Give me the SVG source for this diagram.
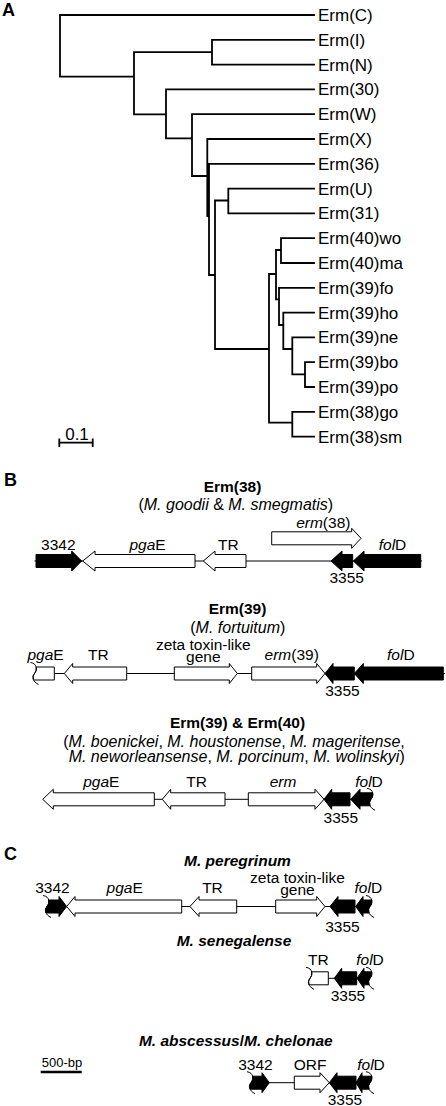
<svg xmlns="http://www.w3.org/2000/svg" width="446" height="1106" viewBox="0 0 446 1106">
<style>
text{font-family:"Liberation Sans",Arial,sans-serif;fill:#000}
.leaf{font-size:17px}
.pl{font-size:18px;font-weight:bold}
.lb{font-size:15.5px;text-anchor:middle}
.zl{font-size:15.5px;text-anchor:middle}
.tt{font-size:15.5px;font-weight:bold;text-anchor:middle}
.sp{font-size:15.5px;font-weight:bold;font-style:italic;text-anchor:middle}
.sub{font-size:16px;text-anchor:middle}
.i{font-style:italic}
.n{font-style:normal}
.br{fill:none;stroke:#000;stroke-width:1.8;stroke-linecap:square}
.bb{fill:none;stroke:#000;stroke-width:1}
.w{fill:#fff;stroke:#000;stroke-width:1;stroke-linejoin:miter}
.k{fill:#000;stroke:#000;stroke-width:1;stroke-linejoin:miter}
</style>
<defs>
<path id="brk" d="M-3,-11 C4,-10 4,-3 1,0 S-1,8 5,11" fill="none" stroke="#000" stroke-width="1"/>
</defs>
<rect width="446" height="1106" fill="#fff"/>

<text class="pl" x="2" y="15.5">A</text>
<text class="pl" x="4" y="485.5">B</text>
<text class="pl" x="4" y="860">C</text>

<g id="connectors">
<path class="br" d="M60,15V76.7M60,15H314M60,76.7H134
M134,52.2V114.3M134,52.2H212M134,114.3H166
M212,39.8V64.6M212,39.8H314M212,64.6H314
M166,89.4V138.3M166,89.4H314M166,138.3H192
M192,114.2V176M192,114.2H314M192,176H207.3
M207.3,139V216M207.3,139H314M207.3,216H209
M209,163.8V275M209,163.8H314M209,275H215
M215,200.5V349M215,200.5H228.3M215,349H269
M228.3,188.6V213.4M228.3,188.6H314M228.3,213.4H314
M269,274V422.7M269,274H276M269,422.7H292.3
M276,250V299.3M276,250H281M276,299.3H279
M281,238.2V263M281,238.2H314M281,263H314
M279,287.8V325M279,287.8H314M279,325H283.3
M283.3,312.6V349M283.3,312.6H314M283.3,349H292.3
M292.3,337.4V374.3M292.3,337.4H314M292.3,374.3H305
M305,362.2V387M305,362.2H314M305,387H314
M292.3,411.8V436.6M292.3,411.8H314M292.3,436.6H314"/>
</g>

<g id="leaves">
<g id="leaf-C"><text class="leaf" x="318" y="21">Erm(C)</text></g>
<g id="leaf-I"><text class="leaf" x="318" y="45.8">Erm(I)</text></g>
<g id="leaf-N"><text class="leaf" x="318" y="70.6">Erm(N)</text></g>
<g id="leaf-30"><text class="leaf" x="318" y="95.4">Erm(30)</text></g>
<g id="leaf-W"><text class="leaf" x="318" y="120.2">Erm(W)</text></g>
<g id="leaf-X"><text class="leaf" x="318" y="145">Erm(X)</text></g>
<g id="leaf-36"><text class="leaf" x="318" y="169.8">Erm(36)</text></g>
<g id="leaf-U"><text class="leaf" x="318" y="194.6">Erm(U)</text></g>
<g id="leaf-31"><text class="leaf" x="318" y="219.4">Erm(31)</text></g>
<g id="leaf-40wo"><text class="leaf" x="318" y="244.2">Erm(40)wo</text></g>
<g id="leaf-40ma"><text class="leaf" x="318" y="269">Erm(40)ma</text></g>
<g id="leaf-39fo"><text class="leaf" x="318" y="293.8">Erm(39)fo</text></g>
<g id="leaf-39ho"><text class="leaf" x="318" y="318.6">Erm(39)ho</text></g>
<g id="leaf-39ne"><text class="leaf" x="318" y="343.4">Erm(39)ne</text></g>
<g id="leaf-39bo"><text class="leaf" x="318" y="368.2">Erm(39)bo</text></g>
<g id="leaf-39po"><text class="leaf" x="318" y="393">Erm(39)po</text></g>
<g id="leaf-38go"><text class="leaf" x="318" y="417.8">Erm(38)go</text></g>
<g id="leaf-38sm"><text class="leaf" x="318" y="442.6">Erm(38)sm</text></g>
</g>

<g id="scale-tree">
<path class="br" stroke-linecap="butt" d="M59.3,442.7H92.7M59.3,439.3V446M92.7,439.3V446"/>
<text class="leaf" x="77" y="440" text-anchor="middle" font-size="18">0.1</text>
</g>

<!-- Panel B row 1 -->
<g id="title-b1">
<text class="tt" x="232.5" y="491.7">Erm(38)</text>
<text class="sub" x="235.8" y="510">(<tspan class="i">M. goodii</tspan> &amp; <tspan class="i">M. smegmatis</tspan>)</text>
</g>
<g id="row-b1" transform="translate(0,561)">
<path class="bb" d="M34.5,0H422"/>
<g id="b1-3342"><path class="k" d="M36,-6.5H71.7V-10L81.7,0L71.7,10V6.5H36Z"/><text class="lb" x="58.3" y="-11">3342</text></g>
<g id="b1-pgaE"><path class="w" d="M82.7,0L95,-10V-6.5H195V6.5H95V10Z"/><text class="lb" x="147.5" y="-11"><tspan class="i">pga</tspan>E</text></g>
<g id="b1-TR"><path class="w" d="M203.3,0L215,-10V-6.5H246V6.5H215V10Z"/><text class="lb" x="228.3" y="-11">TR</text></g>
<g id="b1-erm38"><path class="w" d="M271.7,-29.2H351.7V-32.7L361,-22.7L351.7,-12.7V-16.2H271.7Z"/><text class="lb" x="323.3" y="-33"><tspan class="i">erm</tspan>(38)</text></g>
<g id="b1-3355"><path class="k" d="M331,0L342,-10V-6.5H352.7V6.5H342V10Z"/><text class="lb" x="346.7" y="22">3355</text></g>
<g id="b1-folD"><path class="k" d="M353.3,0L364,-10V-6.5H420.7V6.5H364V10Z"/><text class="lb" x="392.5" y="-11"><tspan class="i">fol</tspan>D</text></g>
</g>

<!-- Panel B row 2 -->
<g id="title-b2">
<text class="tt" x="237.5" y="614">Erm(39)</text>
<text class="sub" x="237.8" y="633">(<tspan class="i">M. fortuitum</tspan>)</text>
</g>
<g id="row-b2" transform="translate(0,673.5)">
<path class="bb" d="M54.3,0H445"/>
<g id="b2-pgaE"><path class="w" d="M36.2,-6.5H54.3V6.5H33.6Q32.3,2.5 34.5,0Q36.7,-2.5 36.2,-6.5Z"/><use href="#brk" x="33.5" y="0"/><text class="lb" x="45.5" y="-13.5"><tspan class="i">pga</tspan>E</text></g>
<g id="b2-TR"><path class="w" d="M64.3,0L72.7,-10V-6.5H126.7V6.5H72.7V10Z"/><text class="lb" x="98.3" y="-13.5">TR</text></g>
<g id="b2-zeta"><path class="w" d="M174.3,-6.5H229.3V-10L237.3,0L229.3,10V6.5H174.3Z"/><text class="zl" x="203.3" y="-23.6">zeta toxin-like<tspan x="203.3" dy="12.4">gene</tspan></text></g>
<g id="b2-erm39"><path class="w" d="M251.7,-6.5H316.7V-10L325,0L316.7,10V6.5H251.7Z"/><text class="lb" x="291.7" y="-13.5"><tspan class="i">erm</tspan>(39)</text></g>
<g id="b2-3355"><path class="k" d="M325,0L333,-10V-6.5H354.3V6.5H333V10Z"/><text class="lb" x="342.5" y="22.5">3355</text></g>
<g id="b2-folD"><path class="k" d="M354.3,0L363.3,-10V-6.5H443.3V6.5H363.3V10Z"/><text class="lb" x="400.8" y="-13.5"><tspan class="i">fol</tspan>D</text></g>
</g>

<!-- Panel B row 3 -->
<g id="title-b3">
<text class="tt" x="237.5" y="728.3">Erm(39) &amp; Erm(40)</text>
<text class="sub" x="234" y="746.7">(<tspan class="i">M. boenickei</tspan>, <tspan class="i">M. houstonense</tspan>, <tspan class="i">M. mageritense</tspan>,</text>
<text class="sub" x="236.7" y="761.7"><tspan class="i">M. neworleansense</tspan>, <tspan class="i">M. porcinum</tspan>, <tspan class="i">M. wolinskyi</tspan>)</text>
</g>
<g id="row-b3" transform="translate(0,799.3)">
<path class="bb" d="M43,0H371"/>
<g id="b3-pgaE"><path class="w" d="M42.7,0L53.3,-10V-6.5H154.3V6.5H53.3V10Z"/><text class="lb" x="101.3" y="-12.6"><tspan class="i">pga</tspan>E</text></g>
<g id="b3-TR"><path class="w" d="M162.3,0L170.7,-10V-6.5H225V6.5H170.7V10Z"/><text class="lb" x="196.7" y="-12.6">TR</text></g>
<g id="b3-erm"><path class="w" d="M248.3,-6.5H315V-10L324,0L315,10V6.5H248.3Z"/><text class="lb" x="283" y="-12.6" font-style="italic">erm</text></g>
<g id="b3-3355"><path class="k" d="M324,0L331.7,-10V-6.5H350V6.5H331.7V10Z"/><text class="lb" x="340.8" y="24">3355</text></g>
<g id="b3-folD"><path class="k" d="M350.7,0L360,-10V-6.5H372.7Q373.2,-2.5 371,0Q368.8,2.5 370.1,6.5H360V10Z"/><use href="#brk" x="370" y="0"/><text class="lb" x="369" y="-12.6"><tspan class="i">fol</tspan>D</text></g>
</g>

<!-- Panel C row 1 -->
<g id="title-c1"><text class="sp" x="237.5" y="866">M. peregrinum</text></g>
<g id="row-c1" transform="translate(0,906.5)">
<path class="bb" d="M46,0H370"/>
<g id="c1-3342"><path class="k" d="M48.7,-6.5H59V-10L66.7,0L59,10V6.5H46.1Q44.8,2.5 47,0Q49.2,-2.5 48.7,-6.5Z"/><use href="#brk" x="46" y="0"/><text class="lb" x="52.5" y="-14">3342</text></g>
<g id="c1-pgaE"><path class="w" d="M66.7,0L75,-10V-6.5H181.7V6.5H75V10Z"/><text class="lb" x="124.7" y="-14"><tspan class="i">pga</tspan>E</text></g>
<g id="c1-TR"><path class="w" d="M190,0L199,-10V-6.5H236.7V6.5H199V10Z"/><text class="lb" x="212.5" y="-14">TR</text></g>
<g id="c1-zeta"><path class="w" d="M275.7,-6.5H316.7V-10L325,0L316.7,10V6.5H275.7Z"/><text class="zl" x="297.5" y="-23.8">zeta toxin-like<tspan x="297.5" dy="12.3">gene</tspan></text></g>
<g id="c1-3355"><path class="k" d="M330,0L338,-10V-6.5H355V6.5H338V10Z"/><text class="lb" x="342.5" y="25.2">3355</text></g>
<g id="c1-folD"><path class="k" d="M355.7,0L363,-10V-6.5H371.7Q372.2,-2.5 370,0Q367.8,2.5 369.1,6.5H363V10Z"/><use href="#brk" x="369" y="0"/><text class="lb" x="368.3" y="-14"><tspan class="i">fol</tspan>D</text></g>
</g>

<!-- Panel C row 2 -->
<g id="title-c2"><text class="sp" x="234" y="946">M. senegalense</text></g>
<g id="row-c2" transform="translate(0,978.3)">
<path class="bb" d="M310,0H370"/>
<g id="c2-TR"><path class="w" d="M311.7,-6.5H328.3V6.5H309.1Q307.8,2.5 310,0Q312.2,-2.5 311.7,-6.5Z"/><use href="#brk" x="309" y="0"/><text class="lb" x="318.3" y="-13.3">TR</text></g>
<g id="c2-3355"><path class="k" d="M334.3,0L341.7,-10V-6.5H356.7V6.5H341.7V10Z"/><text class="lb" x="348" y="22.4">3355</text></g>
<g id="c2-folD"><path class="k" d="M357,0L364,-10V-6.5H371.7Q372.2,-2.5 370,0Q367.8,2.5 369.1,6.5H364V10Z"/><use href="#brk" x="369" y="0"/><text class="lb" x="370" y="-13.3"><tspan class="i">fol</tspan>D</text></g>
</g>

<!-- Panel C row 3 -->
<g id="title-c3"><text class="sp" x="235.8" y="1046">M. abscessus<tspan class="n">/</tspan>M. chelonae</text></g>
<g id="scale-bp">
<path d="M40.7,1072H81.7" stroke="#000" stroke-width="2.5" fill="none"/>
<text x="62" y="1067.3" font-size="13" text-anchor="middle">500-bp</text>
</g>
<g id="row-c3" transform="translate(0,1082.7)">
<path class="bb" d="M251,0H370"/>
<g id="c3-3342"><path class="k" d="M252.7,-6.5H262V-10L269.3,0L262,10V6.5H250.1Q248.8,2.5 251,0Q253.2,-2.5 252.7,-6.5Z"/><use href="#brk" x="250" y="0"/><text class="lb" x="255.5" y="-12.7">3342</text></g>
<g id="c3-ORF"><path class="w" d="M294.3,-6.5H320V-10L329.3,0L320,10V6.5H294.3Z"/><text class="lb" x="310" y="-12.7">ORF</text></g>
<g id="c3-3355"><path class="k" d="M329.3,0L337,-10V-6.5H356V6.5H337V10Z"/><text class="lb" x="345" y="22.3">3355</text></g>
<g id="c3-folD"><path class="k" d="M356,0L362,-10V-6.5H371.7Q372.2,-2.5 370,0Q367.8,2.5 369.1,6.5H362V10Z"/><use href="#brk" x="369" y="0"/><text class="lb" x="371" y="-12.7"><tspan class="i">fol</tspan>D</text></g>
</g>
</svg>
